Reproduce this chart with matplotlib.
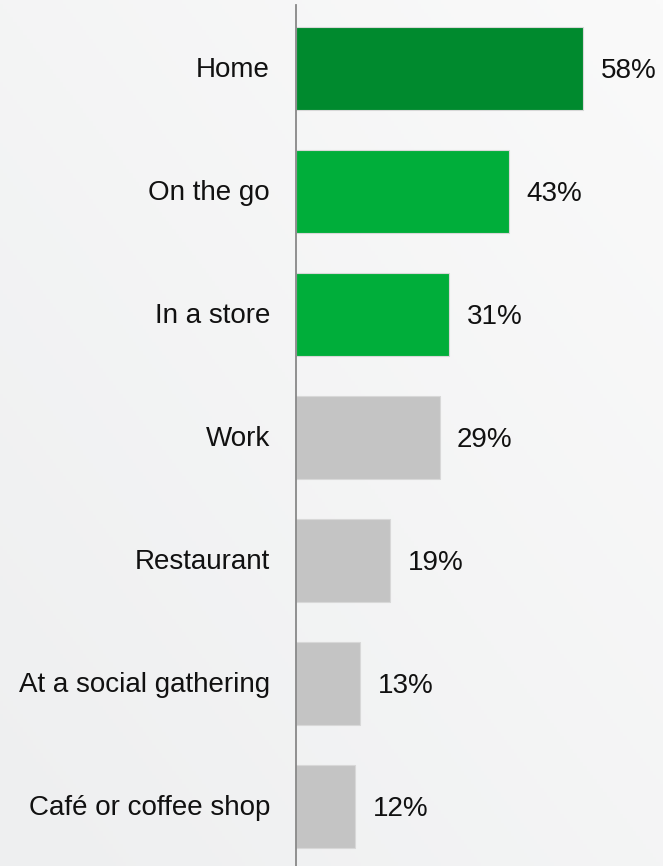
import numpy as np
import matplotlib
matplotlib.use("Agg")
from matplotlib import pyplot as plt
from matplotlib.transforms import blended_transform_factory, ScaledTranslation

categories = ["Home", "On the go", "In a store", "Work", "Restaurant",
              "At a social gathering", "Café or coffee shop"]
shares = [58, 43, 31, 29, 19, 13, 12]
bar_colors = ["#008a2e", "#00ae3a", "#00ae3a", "#c4c4c4", "#c4c4c4", "#c4c4c4", "#c4c4c4"]

plt.rcParams['font.family'] = ['Liberation Sans', 'DejaVu Sans']

fig = plt.figure(figsize=(6.63, 8.66), dpi=100)

# light background gradient
bg = fig.add_axes([0, 0, 1, 1], zorder=-10)
xx, yy = np.meshgrid(np.linspace(0, 1, 200), np.linspace(0, 1, 200))
grad = 0.5 * xx + 0.5 * yy
bg.imshow(grad, cmap=matplotlib.colors.LinearSegmentedColormap.from_list(
    "bg", ["#eeeff0", "#fafafa"]), origin="lower", extent=[0, 1, 0, 1], aspect="auto")
bg.axis("off")

ax = fig.add_axes([296 / 663, 0, (663 - 296) / 663, 861 / 866])
ax.patch.set_alpha(0)

y = np.arange(len(categories))
bars = ax.barh(y, shares, height=0.68, color=bar_colors, edgecolor="#d8d8d8", linewidth=0.8)
ax.set_ylim(len(categories) - 0.5 - 0.015, -0.5 - 0.015)
ax.set_xlim(0, (663 - 296) / 4.95)

for rect, v in zip(bars, shares):
    ax.text(v + 3.5, rect.get_y() + rect.get_height() / 2 + 0.02, "%d%%" % v,
            va="center", ha="left", fontsize=20, color="#111111")

# category labels left of the axis line
trans = blended_transform_factory(ax.transAxes, ax.transData) + \
    ScaledTranslation(-26 / 100, -2 / 100, fig.dpi_scale_trans)
for yi, name in zip(y, categories):
    ax.text(0, yi, name, transform=trans, ha="right", va="center",
            fontsize=20, color="#111111")

ax.set_yticks([])
ax.set_xticks([])
for s in ["top", "right", "bottom"]:
    ax.spines[s].set_visible(False)
ax.spines["left"].set_color("#888888")
ax.spines["left"].set_linewidth(1.3)

fig.savefig("out.png", dpi=100)
